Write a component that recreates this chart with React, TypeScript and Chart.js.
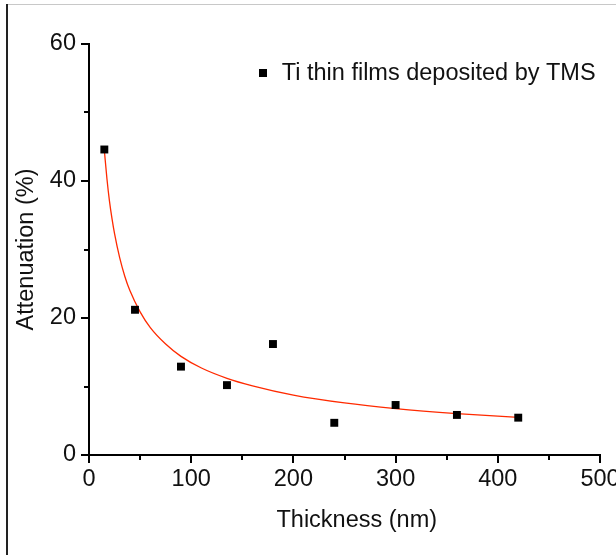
import React, { useEffect, useRef } from 'react';
import { Chart, registerables } from 'chart.js';

Chart.register(...registerables);

// Measured samples
const thicknessNm = [15, 45, 90, 135, 180, 240, 300, 360, 420];
const attenuationPct = [44.6, 21.2, 12.9, 10.2, 16.2, 4.7, 7.3, 5.85, 5.45];

// Fitted curve
const fitThickness = [15, 17.5, 20, 22.5, 25, 30, 35, 40, 50, 60, 75, 90, 110, 135, 160, 200, 250, 300, 360, 420];
const fitAttenuation = [44.5, 40.4, 37.1, 34.5, 32.3, 28.8, 26.1, 24.0, 20.9, 18.6, 16.2, 14.4, 12.7, 11.2, 10.1, 8.75, 7.6, 6.78, 6.05, 5.49];

const xMinorTicks = [50, 150, 250, 350, 450];
const yMinorTicks = [10, 30, 50];

const seriesLabel = 'Ti thin films deposited by TMS';
const xTitle = 'Thickness (nm)';
const yTitle = 'Attenuation (%)';

const FONT = "'Liberation Sans', Arial, Helvetica, sans-serif";
const TEXT_SIZE = 23.5;

const decorPlugin = {
  id: 'decor',
  beforeDraw(chart: any) {
    const { ctx, width, height } = chart;
    ctx.save();
    ctx.fillStyle = '#ffffff';
    ctx.fillRect(0, 0, width, height);
    // frame
    ctx.strokeStyle = '#c8c8c8';
    ctx.lineWidth = 1;
    ctx.beginPath();
    ctx.moveTo(6, 4.5);
    ctx.lineTo(width, 4.5);
    ctx.stroke();
    ctx.strokeStyle = '#222222';
    ctx.lineWidth = 2;
    ctx.beginPath();
    ctx.moveTo(7, 4);
    ctx.lineTo(7, height);
    ctx.stroke();
    ctx.restore();
  },
  afterDraw(chart: any) {
    const { ctx, chartArea } = chart;
    const xs = chart.scales.x;
    const ys = chart.scales.y;
    ctx.save();
    ctx.strokeStyle = '#000';
    ctx.lineWidth = 2;
    ctx.beginPath();
    xMinorTicks.forEach((v) => {
      const px = Math.round(xs.getPixelForValue(v));
      ctx.moveTo(px, chartArea.bottom);
      ctx.lineTo(px, chartArea.bottom + 5);
    });
    yMinorTicks.forEach((v) => {
      const py = Math.round(ys.getPixelForValue(v));
      ctx.moveTo(chartArea.left, py);
      ctx.lineTo(chartArea.left - 5, py);
    });
    ctx.stroke();

    ctx.font = `${TEXT_SIZE}px ${FONT}`;
    ctx.fillStyle = '#111';

    // x axis title (sits slightly right of the axis centre in the original)
    ctx.textAlign = 'center';
    ctx.textBaseline = 'alphabetic';
    ctx.fillText(xTitle, xs.getPixelForValue(262), chartArea.bottom + 72);

    // legend inside plot
    const lx = xs.getPixelForValue(170);
    const ly = ys.getPixelForValue(55.7);
    ctx.fillStyle = '#000';
    ctx.fillRect(Math.round(lx) - 4, Math.round(ly) - 4, 8, 8);
    ctx.textBaseline = 'middle';
    ctx.textAlign = 'left';
    ctx.fillStyle = '#111';
    ctx.fillText(chart.data.datasets[0].label, lx + 19, ly);
    ctx.restore();
  },
};

export default function App() {
  const ref = useRef<HTMLCanvasElement | null>(null);

  useEffect(() => {
    if (!ref.current) return;
    const chart = new Chart(ref.current, {
      type: 'scatter',
      data: {
        datasets: [
          {
            label: seriesLabel,
            data: thicknessNm.map((x, i) => ({ x, y: attenuationPct[i] })),
            pointStyle: 'rect',
            pointRadius: 5.6,
            pointBorderWidth: 0,
            backgroundColor: '#000',
            borderColor: '#000',
            order: 0,
          },
          {
            type: 'line',
            label: 'fit',
            data: fitThickness.map((x, i) => ({ x, y: fitAttenuation[i] })),
            borderColor: '#ff2a00',
            borderWidth: 1.3,
            pointRadius: 0,
            fill: false,
            cubicInterpolationMode: 'monotone',
            order: 1,
          } as any,
        ],
      },
      options: {
        responsive: false,
        animation: false,
        layout: { padding: { left: 0, top: 44, right: 16, bottom: 0 } },
        plugins: {
          legend: { display: false },
          tooltip: { enabled: false },
        },
        scales: {
          x: {
            type: 'linear',
            min: 0,
            max: 500,
            border: { display: true, color: '#000', width: 2 },
            grid: { drawOnChartArea: false, drawTicks: true, tickLength: 8, lineWidth: 2, color: '#000' },
            ticks: { stepSize: 100, maxRotation: 0, padding: 2, color: '#111', font: { family: FONT, size: TEXT_SIZE } },
            title: { display: false, text: xTitle },
            afterFit: (s: any) => {
              s.height = 100;
              s.paddingLeft = 0;
              s.paddingRight = 0;
            },
          },
          y: {
            type: 'linear',
            min: 0,
            max: 60,
            border: { display: true, color: '#000', width: 2 },
            grid: { drawOnChartArea: false, drawTicks: true, tickLength: 8, lineWidth: 2, color: '#000' },
            ticks: { stepSize: 20, padding: 5, color: '#111', font: { family: FONT, size: TEXT_SIZE } },
            title: { display: true, text: yTitle, color: '#111', font: { family: FONT, size: TEXT_SIZE }, padding: { top: 12, bottom: 0 } },
            afterFit: (s: any) => {
              s.width = 89;
              s.paddingTop = 0;
              s.paddingBottom = 0;
            },
          },
        },
      },
      plugins: [decorPlugin],
    });
    return () => chart.destroy();
  }, []);

  return (
    <div style={{ position: 'fixed', left: 0, top: 0, width: 616, height: 555, background: '#fff' }}>
      <canvas ref={ref} width={616} height={555} style={{ display: 'block', width: 616, height: 555 }} />
    </div>
  );
}
